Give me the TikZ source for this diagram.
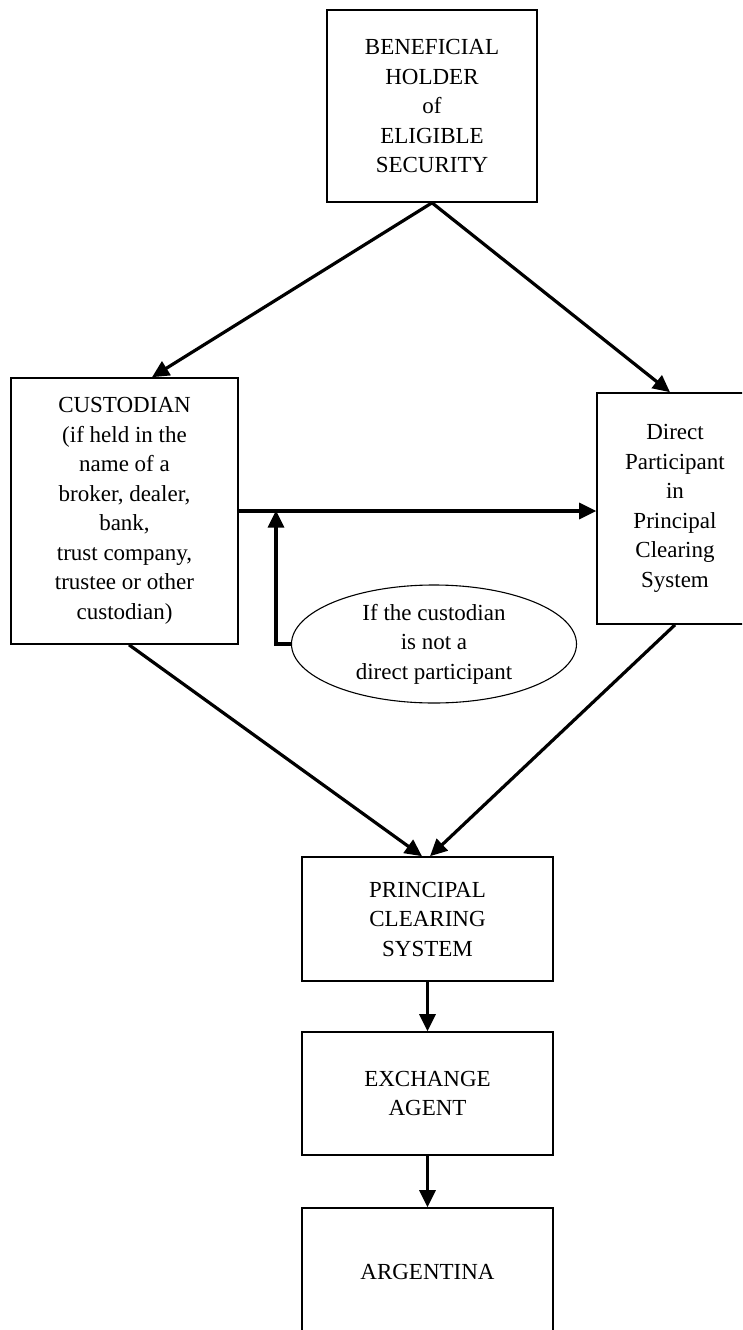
\documentclass[tikz,border=0pt]{standalone}
\usepackage{fontspec}
\setmainfont{Liberation Serif}
\usetikzlibrary{arrows.meta,shapes.geometric}
\begin{document}
\begin{tikzpicture}[x=1pt,y=-1pt,
  box/.style={draw, line width=1.6pt, rectangle, inner sep=0pt, align=center,
    font=\fontsize{23}{29.5}\selectfont},
  oval/.style={draw, line width=1.1pt, ellipse, inner sep=0pt, align=center,
    font=\fontsize{23}{29.5}\selectfont},
  arr/.style={line width=3.2pt, -{Triangle[length=17pt,width=16pt]}}]
\clip (0,0) rectangle (742,1330);
\fill[white] (0,0) rectangle (742,1330);

\node[box, minimum width=210pt, minimum height=192pt] (ben) at (432,106)
  {BENEFICIAL\\HOLDER\\of\\ELIGIBLE\\SECURITY};
\node[box, minimum width=227pt, minimum height=266pt] (cust) at (124.5,511)
  {CUSTODIAN\\(if held in the\\name of a\\broker, dealer,\\bank,\\trust company,\\trustee or other\\custodian)};
\node[box, minimum width=156pt, minimum height=231pt] (dp) at (675,508.5)
  {Direct\\Participant\\in\\Principal\\Clearing\\System};
\node[oval, minimum width=285pt, minimum height=118pt] (ell) at (434,644)
  {If the custodian\\is not a\\direct participant};
\node[box, minimum width=251pt, minimum height=124pt] (pcs) at (427.5,919)
  {PRINCIPAL\\CLEARING\\SYSTEM};
\node[box, minimum width=251pt, minimum height=123pt] (exa) at (427.5,1093.5)
  {EXCHANGE\\AGENT};
\node[box, minimum width=251pt, minimum height=128pt] (arg) at (427.5,1272)
  {ARGENTINA};

\coordinate (bend) at (276,644);
\coordinate (jn) at (276,511);

\draw[arr] (ben.south) -- ([xshift=27.5pt]cust.north);
\draw[arr] (ben.south) -- ([xshift=-5pt]dp.north);
\draw[arr] (cust.east) -- (cust.east -| dp.west);
\draw[arr, shorten >=-0.5pt] (ell.west) -- (bend) -- (jn);
\draw[arr] ([xshift=4.5pt]cust.south) -- ([xshift=-5.5pt]pcs.north);
\draw[arr] (dp.south) -- ([xshift=2.5pt]pcs.north);
\draw[arr] (pcs.south) -- (exa.north);
\draw[arr] (exa.south) -- (arg.north);
\end{tikzpicture}
\end{document}
